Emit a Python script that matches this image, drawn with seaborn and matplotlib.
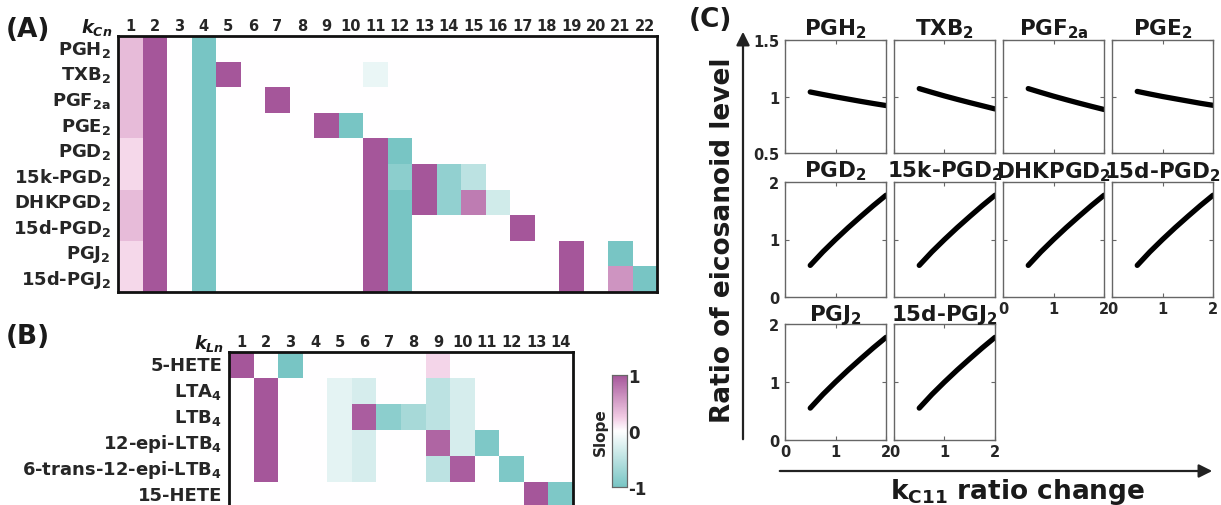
import matplotlib
matplotlib.use("Agg")
import numpy as np
import pandas as pd
import matplotlib.pyplot as plt
import seaborn as sns
from matplotlib.colors import LinearSegmentedColormap
from matplotlib.patches import FancyArrowPatch
from matplotlib.ticker import MultipleLocator

# ---------------- data ----------------
rows_A = [r"PGH$_2$", r"TXB$_2$", r"PGF$_{2a}$", r"PGE$_2$", r"PGD$_2$",
          r"15k-PGD$_2$", r"DHKPGD$_2$", r"15d-PGD$_2$", r"PGJ$_2$", r"15d-PGJ$_2$"]
cols_A = [str(i) for i in range(1, 23)]
slope_A = [
    # 1    2  3   4  5  6  7  8  9  10    11    12   13   14    15    16  17 18 19 20   21   22
    [0.35, 1, 0, -1, 0, 0, 0, 0, 0, 0,    0,    0,    0,   0,    0,    0,   0, 0, 0, 0, 0,   0],
    [0.35, 1, 0, -1, 1, 0, 0, 0, 0, 0,  -0.15,  0,    0,   0,    0,    0,   0, 0, 0, 0, 0,   0],
    [0.35, 1, 0, -1, 0, 0, 1, 0, 0, 0,    0,    0,    0,   0,    0,    0,   0, 0, 0, 0, 0,   0],
    [0.35, 1, 0, -1, 0, 0, 0, 0, 1, -1,   0,    0,    0,   0,    0,    0,   0, 0, 0, 0, 0,   0],
    [0.18, 1, 0, -1, 0, 0, 0, 0, 0, 0,    1,   -1,    0,   0,    0,    0,   0, 0, 0, 0, 0,   0],
    [0.18, 1, 0, -1, 0, 0, 0, 0, 0, 0,    1,  -0.85,  1, -0.8, -0.5,   0,   0, 0, 0, 0, 0,   0],
    [0.35, 1, 0, -1, 0, 0, 0, 0, 0, 0,    1,   -1,    1, -0.8,  0.75, -0.35, 0, 0, 0, 0, 0,   0],
    [0.35, 1, 0, -1, 0, 0, 0, 0, 0, 0,    1,   -1,    0,   0,    0,    0,   1, 0, 0, 0, 0,   0],
    [0.18, 1, 0, -1, 0, 0, 0, 0, 0, 0,    1,   -1,    0,   0,    0,    0,   0, 0, 1, 0, -1,  0],
    [0.18, 1, 0, -1, 0, 0, 0, 0, 0, 0,    1,   -1,    0,   0,    0,    0,   0, 0, 1, 0, 0.6, -1],
]

rows_B = ["5-HETE", r"LTA$_4$", r"LTB$_4$", r"12-epi-LTB$_4$",
          r"6-trans-12-epi-LTB$_4$", "15-HETE"]
cols_B = [str(i) for i in range(1, 15)]
slope_B = [
    # 1  2   3  4    5     6     7     8     9     10    11     12    13  14
    [1, 0, -1, 0,   0,    0,    0,    0,    0.2,  0,    0,     0,    0,  0],
    [0, 1,  0, 0, -0.2, -0.3,   0,    0,   -0.5, -0.3,  0,     0,    0,  0],
    [0, 1,  0, 0, -0.2,  0.95, -0.85, -0.65, -0.5, -0.3,  0,     0,    0,  0],
    [0, 1,  0, 0, -0.2, -0.3,   0,    0,    0.9, -0.3, -0.95,  0,    0,  0],
    [0, 1,  0, 0, -0.2, -0.3,   0,    0,   -0.5,  0.95, 0,   -0.95,  0,  0],
    [0, 0,  0, 0,   0,    0,    0,    0,    0,    0,    0,     0,    1, -0.95],
]

kc_ratio = [0.5, 0.75, 1.0, 1.25, 1.5, 1.75, 2.0]
names_C = [r"PGH$_2$", r"TXB$_2$", r"PGF$_{2a}$", r"PGE$_2$",
           r"PGD$_2$", r"15k-PGD$_2$", r"DHKPGD$_2$", r"15d-PGD$_2$",
           r"PGJ$_2$", r"15d-PGJ$_2$"]
pgh2 = [1.040, 1.018, 0.997, 0.977, 0.957, 0.938, 0.920]
txb2 = [1.070, 1.037, 1.005, 0.975, 0.946, 0.918, 0.890]
pgf2a = [1.070, 1.036, 1.003, 0.972, 0.942, 0.913, 0.885]
pge2 = [1.045, 1.022, 1.000, 0.980, 0.960, 0.940, 0.922]
pgd2 = [0.55, 0.785, 1.00, 1.205, 1.40, 1.59, 1.77]
k15_pgd2 = [0.55, 0.785, 1.00, 1.205, 1.40, 1.59, 1.77]
dhkpgd2 = [0.55, 0.785, 1.00, 1.205, 1.40, 1.59, 1.77]
d15_pgd2 = [0.55, 0.785, 1.00, 1.205, 1.40, 1.59, 1.77]
pgj2 = [0.55, 0.785, 1.00, 1.205, 1.40, 1.59, 1.77]
d15_pgj2 = [0.55, 0.785, 1.00, 1.205, 1.40, 1.59, 1.77]
series_C = [pgh2, txb2, pgf2a, pge2, pgd2, k15_pgd2, dhkpgd2, d15_pgd2, pgj2, d15_pgj2]
ylim_top = [0.5, 1.5]
yticks_top = [0.5, 1, 1.5]
ylim_low = [0, 2]
yticks_low = [0, 1, 2]
xticks_C = [0, 1, 2]

# ---------------- style ----------------
sns.set_theme(style="white")
plt.rcParams["font.family"] = ["DejaVu Sans"]
plt.rcParams["font.weight"] = "bold"
plt.rcParams["axes.titleweight"] = "bold"
plt.rcParams["axes.labelweight"] = "bold"
plt.rcParams["mathtext.fontset"] = "custom"
plt.rcParams["mathtext.rm"] = "DejaVu Sans:bold"
plt.rcParams["mathtext.bf"] = "DejaVu Sans:bold"
plt.rcParams["mathtext.it"] = "DejaVu Sans:italic:bold"
plt.rcParams["mathtext.default"] = "regular"
plt.rcParams["text.color"] = "#1a1a1a"

W, H = 1221, 506
fig = plt.figure(figsize=(W / 100, H / 100), dpi=100)
fig.patch.set_facecolor("white")


def rect(x0, y0, x1, y1):
    return [x0 / W, 1 - y1 / H, (x1 - x0) / W, (y1 - y0) / H]


cmap = LinearSegmentedColormap.from_list(
    "slope", [(0.0, "#78C5C4"), (0.5, "#FFFFFF"), (0.62, "#F2CCE4"), (1.0, "#A5569A")])


def style_heat(ax):
    for s in ax.spines.values():
        s.set_visible(True)
        s.set_color("#111111")
        s.set_linewidth(2)
    ax.xaxis.tick_top()
    ax.tick_params(axis="both", length=0)
    ax.tick_params(axis="x", labelsize=10.5, pad=2)
    ax.tick_params(axis="y", labelsize=13, pad=5)
    for t in ax.get_yticklabels():
        t.set_rotation(0)
    for t in ax.get_xticklabels():
        t.set_rotation(0)


# ---------------- panel A ----------------
axA = fig.add_axes(rect(118, 37, 657, 293))
dfA = pd.DataFrame(slope_A, index=rows_A, columns=cols_A)
sns.heatmap(dfA, ax=axA, cmap=cmap, vmin=-1, vmax=1, cbar=False, linewidths=0,
            xticklabels=cols_A, yticklabels=rows_A)
style_heat(axA)
fig.text(6 / W, 1 - 30 / H, "(A)", fontsize=19, fontweight="bold", ha="left", va="center")
fig.text(112 / W, 1 - 28 / H, r"$\mathit{k}_{\mathit{Cn}}$", fontsize=13, ha="right", va="center")

# ---------------- panel B ----------------
axB = fig.add_axes(rect(229, 353, 573, 509))
caxB = fig.add_axes(rect(612, 376, 627, 488))
dfB = pd.DataFrame(slope_B, index=rows_B, columns=cols_B)
sns.heatmap(dfB, ax=axB, cmap=cmap, vmin=-1, vmax=1, cbar=True, cbar_ax=caxB,
            cbar_kws={"ticks": [-1, 0, 1]}, linewidths=0,
            xticklabels=cols_B, yticklabels=rows_B)
style_heat(axB)
axB.spines["bottom"].set_visible(False)
fig.text(6 / W, 1 - 337 / H, "(B)", fontsize=19, fontweight="bold", ha="left", va="center")
fig.text(224 / W, 1 - 344 / H, r"$\mathit{k}_{\mathit{Ln}}$", fontsize=13, ha="right", va="center")

caxB.set_yticks([-1, 0, 1])
caxB.set_yticklabels(["-1", "0", "1"])
caxB.yaxis.set_minor_locator(MultipleLocator(0.125))
caxB.tick_params(axis="y", which="major", direction="in", left=True, right=True,
                 length=3, width=0.6, color="#555555", labelsize=12, pad=1)
caxB.tick_params(axis="y", which="minor", direction="in", left=True, right=True,
                 length=2, width=0.5, color="#777777")
caxB.yaxis.set_label_position("left")
caxB.set_ylabel("Slope", fontsize=11, fontweight="bold", labelpad=3)
for s in caxB.spines.values():
    s.set_visible(True)
    s.set_color("#666666")
    s.set_linewidth(0.8)

# ---------------- panel C ----------------
col_x = [(785, 886), (894, 995), (1003, 1104), (1112, 1213)]
row_y = [(41, 154), (183, 298), (325, 441)]
fig.text(689 / W, 1 - 20 / H, "(C)", fontsize=19, fontweight="bold", ha="left", va="center")

for i, (name, vals) in enumerate(zip(names_C, series_C)):
    r, c = divmod(i, 4)
    x0, x1 = col_x[c]
    y0, y1 = row_y[r]
    ax = fig.add_axes(rect(x0, y0, x1, y1))
    sns.lineplot(x=kc_ratio, y=vals, ax=ax, color="black", linewidth=3.8)
    ax.set_xlim(0, 2)
    if r == 0:
        ax.set_ylim(*ylim_top)
        ax.set_yticks(yticks_top)
        ylabels = ["0.5", "1", "1.5"]
    else:
        ax.set_ylim(*ylim_low)
        ax.set_yticks(yticks_low)
        ylabels = ["0", "1", "2"]
    ax.set_xticks(xticks_C)
    ax.set_facecolor("white")
    for s in ax.spines.values():
        s.set_visible(True)
        s.set_color("#666666")
        s.set_linewidth(1.0)
    ax.tick_params(direction="in", top=True, right=True, bottom=True, left=True,
                   length=3, width=0.8, color="#666666", labelsize=10.5)
    ax.tick_params(axis="y", pad=4)
    ax.tick_params(axis="x", pad=3)
    if c == 0:
        ax.set_yticklabels(ylabels)
    else:
        ax.set_yticklabels([])
    bottom_row = (r == 2) or (r == 1 and c >= 2)
    if bottom_row:
        ax.set_xticklabels(["0", "1", "2"])
    else:
        ax.set_xticklabels([])
    ax.set_xlabel("")
    ax.set_ylabel("")
    ax.set_title(name, fontsize=15.5, fontweight="bold", pad=3)

# axis arrows and labels
fig.add_artist(FancyArrowPatch((743 / W, 1 - 443 / H), (743 / W, 1 - 30 / H),
                               transform=fig.transFigure, arrowstyle="-|>",
                               mutation_scale=20, lw=1.6, color="#222222"))
fig.add_artist(FancyArrowPatch((777 / W, 1 - 472 / H), (1215 / W, 1 - 472 / H),
                               transform=fig.transFigure, arrowstyle="-|>",
                               mutation_scale=20, lw=1.6, color="#222222"))
fig.text(723 / W, 1 - 240 / H, "Ratio of eicosanoid level", rotation=90,
         fontsize=19, fontweight="bold", ha="center", va="center")
fig.text(1018 / W, 1 - 492 / H, r"k$_{C11}$ ratio change",
         fontsize=19, fontweight="bold", ha="center", va="center")

fig.savefig("out.png", dpi=100, facecolor="white")
